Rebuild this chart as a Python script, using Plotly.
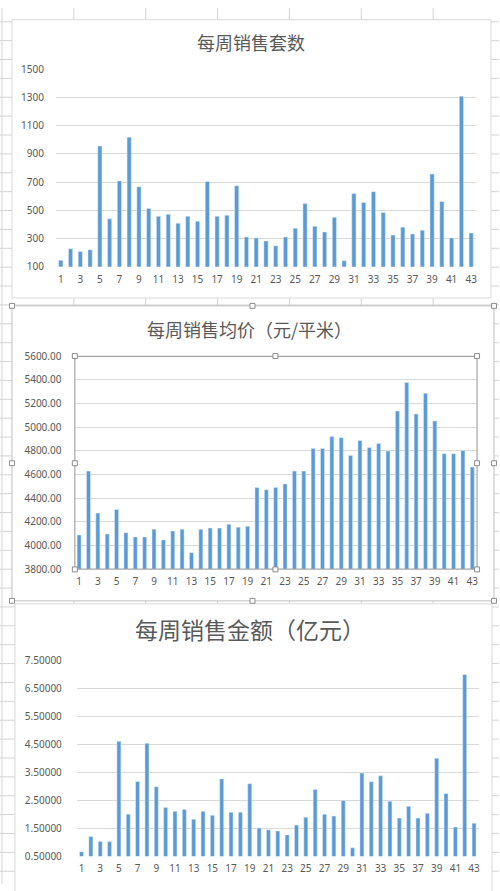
import plotly.graph_objects as go

# week numbers
weeks = list(range(1, 44))

# weekly units sold
units = [146, 228, 209, 221, 956, 440, 709, 1019, 667, 514,
         458, 472, 409, 458, 423, 705, 458, 465, 674, 312,
         305, 284, 249, 312, 374, 549, 388, 347, 451, 144,
         619, 556, 633, 486, 326, 381, 333, 360, 758, 563,
         305, 1309, 340]

# weekly average price (yuan / m2)
price = [4088, 4629, 4274, 4097, 4305, 4108, 4072, 4072, 4138, 4047,
         4122, 4138, 3939, 4138, 4147, 4147, 4180, 4155, 4163, 4491,
         4471, 4491, 4521, 4629, 4629, 4821, 4821, 4921, 4912, 4762,
         4887, 4829, 4862, 4799, 5137, 5378, 5112, 5287, 5054, 4776,
         4776, 4804, 4663]

# weekly sales amount (100M yuan)
amount = [0.66, 1.20, 1.02, 1.02, 4.60, 2.00, 3.17, 4.53, 2.98, 2.24,
          2.10, 2.17, 1.82, 2.10, 1.96, 3.26, 2.07, 2.07, 3.09, 1.51,
          1.44, 1.40, 1.26, 1.61, 1.89, 2.88, 2.00, 1.93, 2.49, 0.80,
          3.47, 3.16, 3.37, 2.46, 1.86, 2.28, 1.86, 2.03, 4.00, 2.74,
          1.54, 6.99, 1.68]

titles = ['每周销售套数', '每周销售均价（元/平米）', '每周销售金额（亿元）']

W, H = 500, 891
BLUE = '#5B9BD5'
GREY = '#595959'
GRID = '#d9d9d9'


def px(x):
    return x / W


def py(y):
    return 1 - y / H


fig = go.Figure()
fig.add_trace(go.Bar(x=weeks, y=units, marker_color=BLUE, xaxis='x', yaxis='y'))
fig.add_trace(go.Bar(x=weeks, y=price, marker_color=BLUE, xaxis='x2', yaxis='y2'))
fig.add_trace(go.Bar(x=weeks, y=amount, marker_color=BLUE, xaxis='x3', yaxis='y3'))

tickfont = dict(family='Noto Sans, Noto Sans CJK SC', size=10, color=GREY)
xcommon = dict(range=[0.5, 43.5], tick0=1, dtick=2, showgrid=False, zeroline=False,
               showline=False, ticks='', tickfont=tickfont, ticklabelstandoff=5,
               fixedrange=True)

shapes = []
# excel sheet grid in the background
for gx in [2, 74, 146, 218, 290, 362, 434]:
    shapes.append(dict(type='line', xref='paper', yref='paper', x0=px(gx), x1=px(gx),
                       y0=0, y1=1, line=dict(color='#d4d4d4', width=1), layer='below'))
gy = 14
while gy < H:
    shapes.append(dict(type='line', xref='paper', yref='paper', x0=0, x1=1,
                       y0=py(gy), y1=py(gy), line=dict(color='#d4d4d4', width=1), layer='below'))
    gy += 19.2

# chart boxes
boxes = [(12, 12, 492, 295, '#d9d9d9'), (12, 303, 495, 603, '#bfbfbf'), (15, 606, 493, 900, '#d9d9d9')]
for x0, y0, x1, y1, c in boxes:
    shapes.append(dict(type='rect', xref='paper', yref='paper', x0=px(x0), x1=px(x1),
                       y0=py(y0), y1=py(y1), fillcolor='white', line=dict(color=c, width=1),
                       layer='below'))

# selected plot area of chart 2
shapes.append(dict(type='rect', xref='paper', yref='paper', x0=px(75), x1=px(478),
                   y0=py(354.3), y1=py(570.7), line=dict(color='#a6a6a6', width=1.2)))
handles = [(12, 303), (253, 303), (495, 303), (12, 463), (495, 463), (12, 603), (253, 603), (495, 603),
           (75, 354), (276, 354), (478, 354), (75, 463), (478, 463), (75, 571), (276, 571), (478, 571)]
for hx, hy in handles:
    shapes.append(dict(type='rect', xref='paper', yref='paper', x0=px(hx - 2.5), x1=px(hx + 2.5),
                       y0=py(hy - 2.5), y1=py(hy + 2.5), fillcolor='white',
                       line=dict(color='#8c8c8c', width=1)))

fig.update_layout(
    width=W, height=H,
    margin=dict(l=0, r=0, t=0, b=0),
    paper_bgcolor='white',
    plot_bgcolor='rgba(0,0,0,0)',
    showlegend=False,
    bargap=0.57,
    shapes=shapes,
    xaxis=dict(domain=[px(56), px(477)], anchor='y', **xcommon),
    yaxis=dict(domain=[py(263.3), py(62.3)], anchor='x', range=[100, 1500], tick0=100, dtick=200,
               gridcolor=GRID, zeroline=False, tickfont=tickfont, ticklabelstandoff=11,
               fixedrange=True),
    xaxis2=dict(domain=[px(74.6), px(477.9)], anchor='y2', **xcommon),
    yaxis2=dict(domain=[py(570.7), py(354.3)], anchor='x2', range=[3800, 5600], tick0=3800, dtick=200,
                tickformat='.2f', gridcolor=GRID, zeroline=False, tickfont=tickfont,
                ticklabelstandoff=12, fixedrange=True),
    xaxis3=dict(domain=[px(77), px(479.7)], anchor='y3', **xcommon),
    yaxis3=dict(domain=[py(862.7), py(663.3)], anchor='x3', range=[0.5, 7.5], tick0=0.5, dtick=1,
                tickformat='.5f', gridcolor=GRID, zeroline=False, tickfont=tickfont,
                ticklabelstandoff=14, fixedrange=True),
)

title_pos = [(252, 35, 18), (250, 327, 18), (250, 632, 23)]
for t, (tx, ty, fs) in zip(titles, title_pos):
    fig.add_annotation(text=t, x=px(tx), y=py(ty), xref='paper', yref='paper', showarrow=False,
                       xanchor='center', yanchor='middle',
                       font=dict(family='Noto Sans CJK SC', size=fs, color=GREY))

# no page margin so the figure fills the window exactly
fig.write_html("out.html", config={'displayModeBar': False},
               post_script="document.body.style.margin='0';")
